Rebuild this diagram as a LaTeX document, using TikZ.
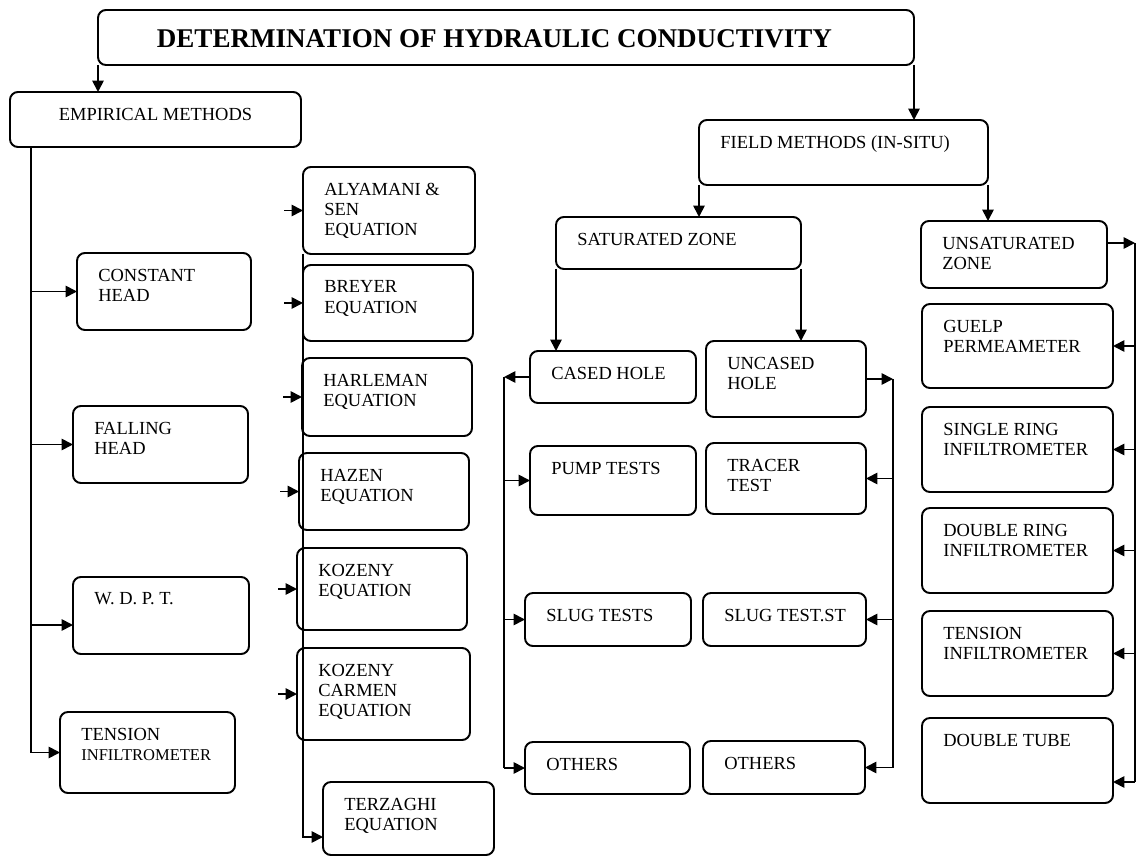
\documentclass[tikz,border=0pt]{standalone}
\usepackage{fontspec}
\setmainfont{Liberation Serif}
\usetikzlibrary{arrows.meta}
\newcommand{\px}{0.02cm}

\begin{document}
\begin{tikzpicture}[x=\px, y=-\px,
    waku/.style={draw, line width=1.1pt, rounded corners=4.5pt, anchor=north west, inner sep=0pt, outer sep=0pt},
    moji/.style={anchor=north west, align=left, inner sep=0pt, font=\fontsize{10.5}{11.6}\selectfont},
    ya/.style={line width=1pt, -{Triangle[length=6.5pt,width=6.5pt]}},
    sen/.style={line width=1pt}]
    \useasboundingbox (0,0) rectangle (1140,858);

    % タイトル
    \node[waku, minimum width=816*\px, minimum height=55*\px] (title) at (98,10) {};
    \node[moji, anchor=north, font=\fontsize{15.4}{18}\selectfont\bfseries] (title-t)
        at ([xshift=-11.5*\px, yshift=-19*\px]title.north) {DETERMINATION OF HYDRAULIC CONDUCTIVITY};

    % 経験的方法
    \node[waku, minimum width=291*\px, minimum height=55*\px] (emp) at (10,92) {};
    \node[moji, anchor=north] (emp-t) at ([yshift=-15.5*\px]emp.north) {EMPIRICAL METHODS};

    % 各ボックス（名前/x/y/幅/高さ/文字）
    \foreach \nm/\xx/\yy/\ww/\hh/\txt in {
        field/699/120/289/65/{FIELD METHODS (IN-SITU)},
        sat/556/217/245/52/{SATURATED ZONE},
        unsat/921/221/186/67/{UNSATURATED\\ZONE},
        ch/77/253/174/77/{CONSTANT\\HEAD},
        fh/73/406/175/77/{FALLING\\HEAD},
        wdpt/73/577/176/77/{W. D. P. T.},
        tl/60/712/175/81/{TENSION\\{\fontsize{9.4}{11.6}\selectfont INFILTROMETER}},
        aly/303/167/172/87/{ALYAMANI \&\\SEN\\EQUATION},
        brey/303/265/170/76/{BREYER\\EQUATION},
        harl/302/358/170/78/{HARLEMAN\\EQUATION},
        haz/299/453/170/77/{HAZEN\\EQUATION},
        koz/297/548/170/82/{KOZENY\\EQUATION},
        kc/297/648/173/92/{KOZENY\\CARMEN\\EQUATION},
        terz/323/782/171/73/{TERZAGHI\\EQUATION},
        cased/530/351/166/52/{CASED HOLE},
        pump/530/446/166/69/{PUMP TESTS},
        slug/525/593/166/53/{SLUG TESTS},
        oth1/525/742/165/52/{OTHERS},
        unc/706/341/160/76/{UNCASED\\HOLE},
        trac/706/443/160/71/{TRACER\\TEST},
        slst/703/593/163/53/{SLUG TEST.ST},
        oth2/703/741/162/53/{OTHERS},
        guelp/922/304/191/84/{GUELP\\PERMEAMETER},
        sring/922/407/191/85/{SINGLE RING\\INFILTROMETER},
        dring/922/508/191/85/{DOUBLE RING\\INFILTROMETER},
        tr/922/611/191/85/{TENSION\\INFILTROMETER},
        dtube/922/718/191/85/{DOUBLE TUBE}
    }{
        \node[waku, minimum width=\ww*\px, minimum height=\hh*\px] (\nm) at (\xx,\yy) {};
        \node[moji] (\nm-t) at ([xshift=21*\px, yshift=-15.5*\px]\nm.north west) {\txt};
    }

    % 上段の矢印
    \draw[ya] (title.south west) -- (title.south west |- emp.north);
    \draw[ya] (title.south east) -- (title.south east |- field.north);
    \draw[ya] (field.south west) -- (field.south west |- sat.north);
    \draw[ya] (field.south east) -- (field.south east |- unsat.north);
    \draw[ya] (sat.south west) -- (sat.south west |- cased.north);
    \draw[ya] (sat.south east) -- (sat.south east |- unc.north);

    % 経験的方法の分岐
    \coordinate (eL) at ([xshift=21*\px]emp.south west);
    \coordinate (wA) at ([yshift=-48*\px]wdpt.north west);
    \draw[sen] (eL) -- (eL |- tl.west);
    \foreach \b in {ch,fh,tl}
        \draw[ya] (eL |- \b.west) -- (\b.west);
    \draw[ya] (eL |- wA) -- (wA);

    % 式の列
    \foreach \b in {aly,brey,harl,haz,koz,kc}
        \draw[ya] ([xshift=-19*\px]\b.west) -- (\b.west);
    \coordinate (tzA) at ([yshift=-55*\px]terz.north west);
    \draw[ya] (aly.south west) |- (tzA);

    % ケーシングあり
    \coordinate (mL) at ([xshift=-26*\px]cased.west);
    \draw[ya] (cased.west) -- (mL);
    \draw[sen] (mL) -- (mL |- oth1.west);
    \foreach \b in {pump,slug,oth1}
        \draw[ya] (mL |- \b.west) -- (\b.west);

    % ケーシングなし
    \coordinate (mR) at ([xshift=27*\px]unc.east);
    \draw[ya] (unc.east) -- (mR);
    \draw[sen] (mR) -- (mR |- oth2.east);
    \foreach \b in {trac,slst,oth2}
        \draw[ya] (mR |- \b.east) -- (\b.east);

    % 不飽和帯
    \coordinate (uA) at ([yshift=-22*\px]unsat.north east);
    \coordinate (rR) at ([xshift=28*\px]uA);
    \coordinate (dtA) at ([yshift=-64*\px]dtube.north east);
    \draw[ya] (uA) -- (rR);
    \draw[sen] (rR) -- (rR |- dtA);
    \foreach \b in {guelp,sring,dring,tr}
        \draw[ya] (rR |- \b.east) -- (\b.east);
    \draw[ya] (rR |- dtA) -- (dtA);
    %
\end{tikzpicture}
\end{document}
